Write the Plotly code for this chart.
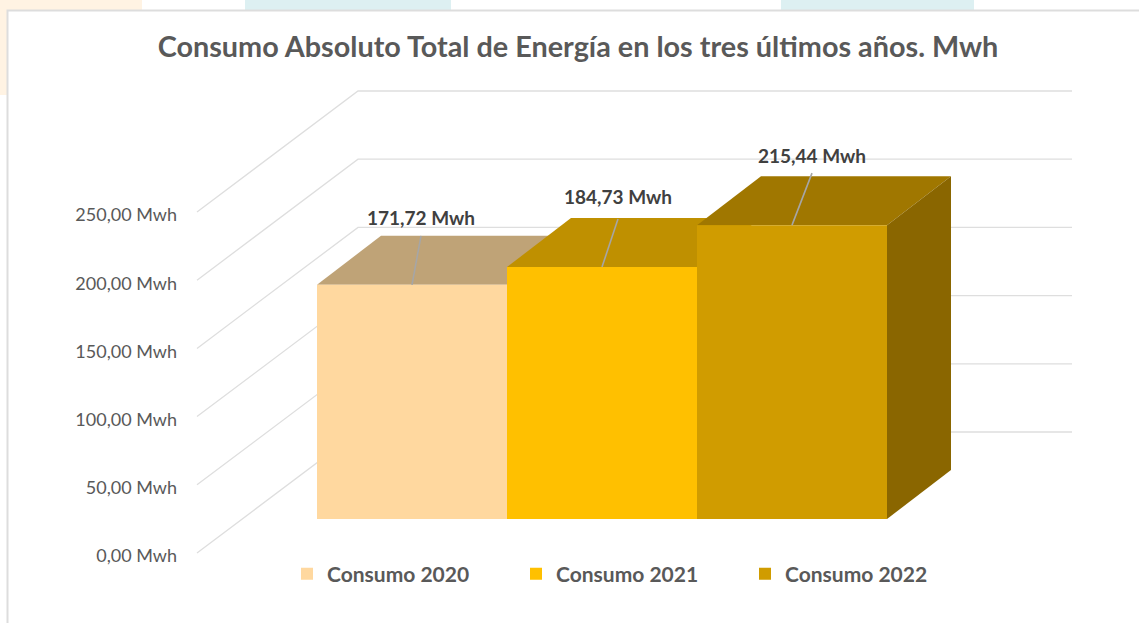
import plotly.graph_objects as go

# ---- data ----
TITLE = "Consumo Absoluto Total de Energía en los tres últimos años. Mwh"
SERIES = ["Consumo 2020", "Consumo 2021", "Consumo 2022"]
VALUES = [171.72, 184.73, 215.44]
AXIS_TICKS = [0, 50, 100, 150, 200, 250]
UNIT = "Mwh"

# ---- styles ----
FRONT = ["#FFD89F", "#FFC000", "#D09C00"]
TOP = ["#BFA377", "#BF9000", "#A07700"]
SIDE = "#8A6600"
GRID = "#DEDEDE"
TXT = "#595959"
LABEL = "#404040"
FONT = "Lato, 'Open Sans', sans-serif"

# ---- layout geometry (pixels on the 1139x623 canvas) ----
W, H = 1139, 623
L, R, T, B = 178, 1085, 60, 612       # plot box
CAT_PX, CAT0_PX = 190, 412            # category width and centre of the first one
PX_PER_UNIT = 1.364
AXIS_ZERO_PX, BAR_ZERO_PX = 556, 519  # where value 0 sits on the labelled axis / bar plane
DEPTH_X, DEPTH_Y = 64 / CAT_PX, 49 / PX_PER_UNIT  # bar depth
# wall grid
GRID_FRONT_PX, GRID_BACK_PX, GRID_END_PX = 197, 358, 1072
GRID_OFFSET = 3 / PX_PER_UNIT
GRID_RISE = 121 / PX_PER_UNIT
# data-label leader: horizontal shift (categories), rise (value units), label rise
LEADER_DX = [9 / CAT_PX, 16 / CAT_PX, 20 / CAT_PX]
LEADER_DY = [49 / PX_PER_UNIT, 48 / PX_PER_UNIT, 52 / PX_PER_UNIT]
LABEL_DY = [65 / PX_PER_UNIT, 68 / PX_PER_UNIT, 67 / PX_PER_UNIT]


def cat(px):
    return (px - CAT0_PX) / CAT_PX


def val_range(zero_px):
    return [(zero_px - B) / PX_PER_UNIT, (zero_px - T) / PX_PER_UNIT]


def es(v):
    return f"{v:.2f} {UNIT}".replace(".", ",")


fig = go.Figure()

# wall grid lines (lowest subplot, owns the labelled axis)
gx, gy = [], []
for t in AXIS_TICKS:
    gx += [cat(GRID_FRONT_PX), cat(GRID_BACK_PX), cat(GRID_END_PX), None]
    gy += [t + GRID_OFFSET, t + GRID_OFFSET + GRID_RISE, t + GRID_OFFSET + GRID_RISE, None]
fig.add_trace(go.Scatter(x=gx, y=gy, mode="lines", line=dict(color=GRID, width=1.3),
                         hoverinfo="skip", showlegend=False, xaxis="x", yaxis="y"))

# top faces and right side face
for i, v in enumerate(VALUES):
    fig.add_trace(go.Scatter(
        x=[i - .5, i + .5, i + .5 + DEPTH_X, i - .5 + DEPTH_X, i - .5],
        y=[v, v, v + DEPTH_Y, v + DEPTH_Y, v],
        mode="lines", fill="toself", fillcolor=TOP[i], line=dict(width=0),
        hoverinfo="skip", showlegend=False, xaxis="x", yaxis="y2"))
last = len(VALUES) - 1
fig.add_trace(go.Scatter(
    x=[last + .5, last + .5 + DEPTH_X, last + .5 + DEPTH_X, last + .5, last + .5],
    y=[0, DEPTH_Y, VALUES[last] + DEPTH_Y, VALUES[last], 0],
    mode="lines", fill="toself", fillcolor=SIDE, line=dict(width=0),
    hoverinfo="skip", showlegend=False, xaxis="x", yaxis="y2"))

# front faces
for i, (name, v) in enumerate(zip(SERIES, VALUES)):
    fig.add_trace(go.Bar(x=[i], y=[v], width=1, name=name, marker=dict(color=FRONT[i], line=dict(width=0)),
                         xaxis="x", yaxis="y3"))

# data labels and their leaders
for i, v in enumerate(VALUES):
    fig.add_trace(go.Scatter(x=[i, i + LEADER_DX[i]], y=[v, v + LEADER_DY[i]], mode="lines",
                             line=dict(color="#A6A6A6", width=1.6), hoverinfo="skip",
                             showlegend=False, xaxis="x", yaxis="y3"))
    fig.add_trace(go.Scatter(x=[i + LEADER_DX[i]], y=[v + LABEL_DY[i]], mode="text",
                             text=[f"<b>{es(v)}</b>"], textposition="middle center",
                             textfont=dict(family=FONT, size=19, color=LABEL), hoverinfo="skip",
                             showlegend=False, xaxis="x", yaxis="y3"))

# page background patches and chart frame
shapes = []
for x0, x1, y0, y1, col in [(0, 142, 0, 11, "#FFF3E3"), (0, 8, 0, 95, "#FFF3E3"),
                            (245, 451, 0, 11, "#DDF0F2"), (781, 974, 0, 11, "#DDF0F2")]:
    shapes.append(dict(type="rect", xref="paper", yref="paper", x0=x0 / W, x1=x1 / W,
                       y0=1 - y0 / H, y1=1 - y1 / H, fillcolor=col, line=dict(width=0), layer="below"))
shapes.append(dict(type="rect", xref="paper", yref="paper", x0=7.5 / W, x1=1.01, y0=-0.01, y1=1 - 10.5 / H,
                   fillcolor="white", line=dict(color="#DDDDDD", width=2), layer="below"))

hidden = dict(visible=False, overlaying="y", domain=[1 - B / H, 1 - T / H], fixedrange=True)
fig.update_layout(
    width=W, height=H, margin=dict(l=0, r=0, t=0, b=0, autoexpand=False),
    paper_bgcolor="white", plot_bgcolor="rgba(0,0,0,0)",
    barmode="overlay", shapes=shapes, font=dict(family=FONT, color=TXT),
    title=dict(text=f"<b>{TITLE}</b>", x=578 / W, xanchor="center", xref="paper",
               y=1 - 47 / H, yanchor="middle", yref="paper",
               font=dict(family=FONT, size=28.8, color=TXT)),
    xaxis=dict(visible=False, domain=[L / W, R / W], range=[cat(L), cat(R)], fixedrange=True),
    yaxis=dict(domain=[1 - B / H, 1 - T / H], range=val_range(AXIS_ZERO_PX), tickmode="array",
               tickvals=AXIS_TICKS, ticktext=[es(t) for t in AXIS_TICKS], ticks="", showgrid=False,
               zeroline=False, showline=False, fixedrange=True,
               tickfont=dict(family=FONT, size=18, color=TXT)),
    yaxis2=dict(range=val_range(BAR_ZERO_PX), **hidden),
    yaxis3=dict(range=val_range(BAR_ZERO_PX), **hidden),
    legend=dict(orientation="h", x=287 / W, xanchor="left", y=1 - 574 / H, yanchor="middle",
                entrywidth=184, entrywidthmode="pixels", traceorder="normal", bgcolor="rgba(0,0,0,0)",
                font=dict(family=FONT, size=21, color=TXT, weight="bold")),
    showlegend=True,
)

fig.write_html("out.html", post_script="document.body.style.margin='0';document.body.style.overflow='hidden';",
               config={"displayModeBar": False})
